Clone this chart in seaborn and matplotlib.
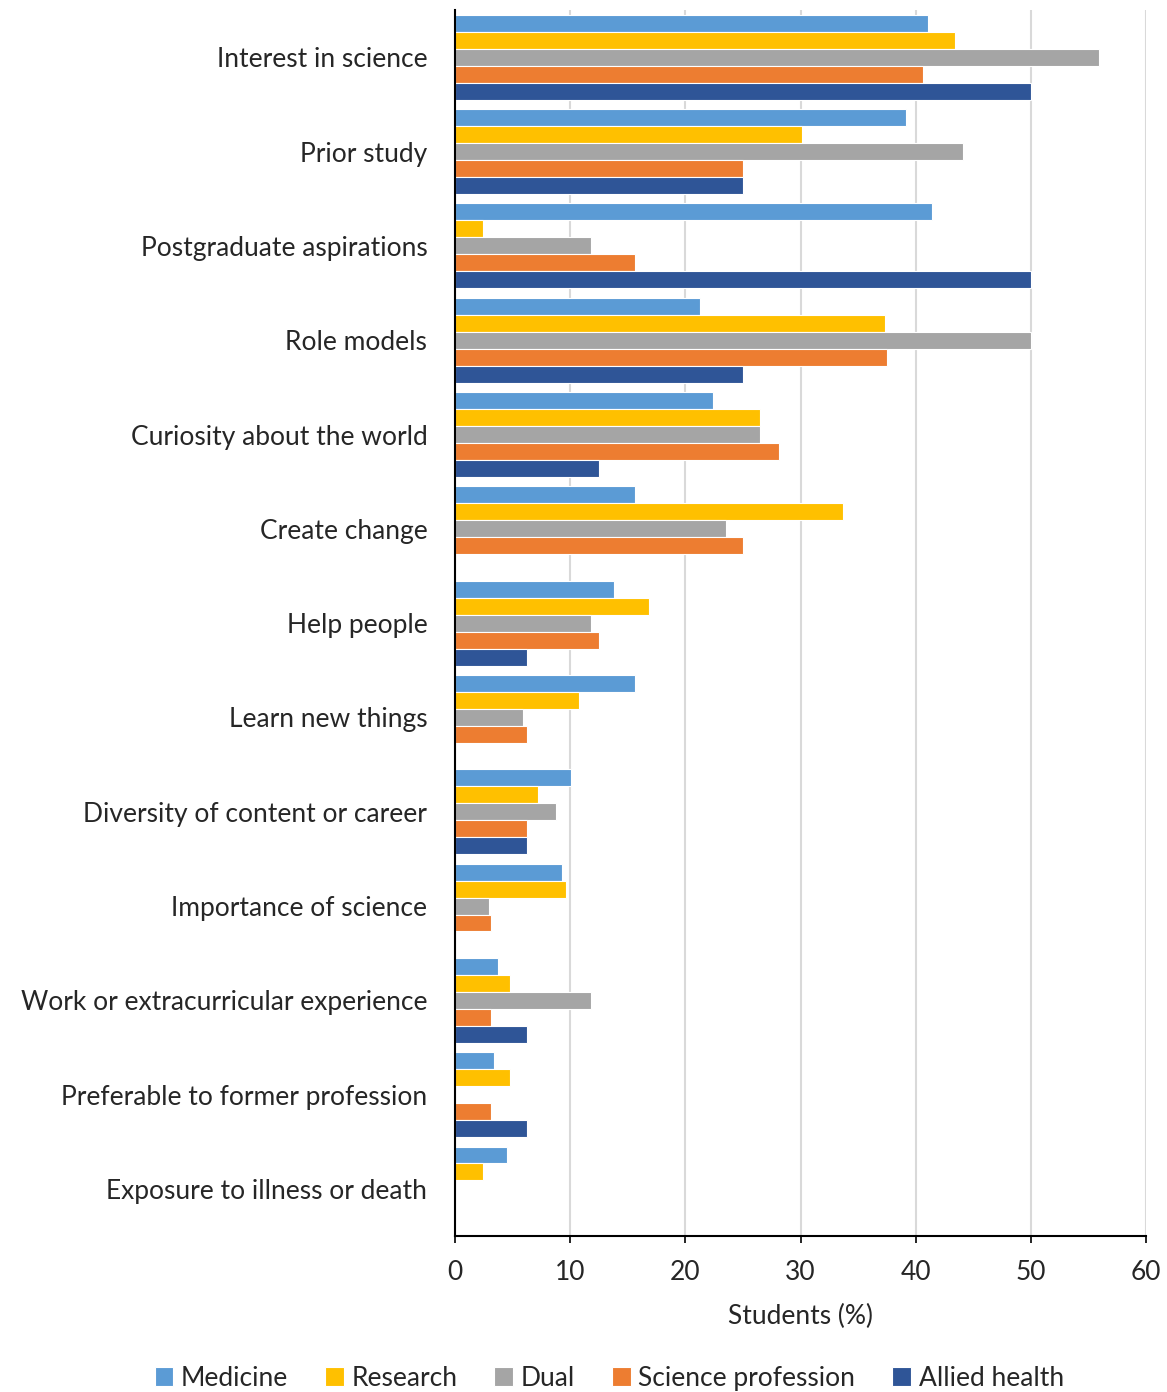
import numpy as np
import pandas as pd
import seaborn as sns
import matplotlib.pyplot as plt

categories = ["Interest in science", "Prior study", "Postgraduate aspirations", "Role models",
              "Curiosity about the world", "Create change", "Help people", "Learn new things",
              "Diversity of content or career", "Importance of science",
              "Work or extracurricular experience", "Preferable to former profession",
              "Exposure to illness or death"]
medicine = [41.1, 39.2, 41.4, 21.3, 22.4, 15.6, 13.8, 15.6, 10.1, 9.3, 3.7, 3.4, 4.5]
research = [43.4, 30.1, 2.4, 37.3, 26.5, 33.7, 16.8, 10.8, 7.2, 9.6, 4.8, 4.8, 2.4]
dual = [55.9, 44.1, 11.8, 50.0, 26.5, 23.5, 11.8, 5.9, 8.8, 2.9, 11.8, 0, 0]
science_prof = [40.6, 25.0, 15.6, 37.5, 28.1, 25.0, 12.5, 6.25, 6.25, 3.1, 3.1, 3.1, 0]
allied = [50.0, 25.0, 50.0, 25.0, 12.5, 0, 6.25, 0, 6.25, 0, 6.25, 6.25, 0]

groups = ["Medicine", "Research", "Dual", "Science profession", "Allied health"]
colors = ["#5B9BD5", "#FFC000", "#A5A5A5", "#ED7D31", "#2F5597"]

df = pd.DataFrame({"Medicine": medicine, "Research": research, "Dual": dual,
                   "Science profession": science_prof, "Allied health": allied},
                  index=categories)
long = df.reset_index(names="reason").melt(id_vars="reason", var_name="group", value_name="pct")

sns.set_style("white")
plt.rcParams["font.family"] = ["Lato", "DejaVu Sans"]
fs = 19

fig = plt.figure(figsize=(11.67, 13.92), dpi=100)
ax = fig.add_axes([0.39, 0.112, 0.592, 0.8807])

sns.barplot(data=long, y="reason", x="pct", hue="group", hue_order=groups,
            palette=colors, saturation=1, orient="h", width=0.9, errorbar=None,
            edgecolor="white", linewidth=0.8, ax=ax, legend=True)

ax.set_xlim(0, 60)
ax.set_xticks(np.arange(0, 61, 10))
ax.grid(axis="x", color="#D9D9D9", linewidth=1.5)
ax.set_axisbelow(True)
sns.despine(ax=ax, top=True, right=True)
ax.spines["left"].set_color("black")
ax.spines["left"].set_linewidth(1.5)
ax.spines["bottom"].set_color("black")
ax.spines["bottom"].set_linewidth(1.5)

# category separators on y axis
ax.set_yticks(np.arange(len(categories)))
ax.set_yticklabels(categories)
ax.set_yticks(np.arange(len(categories) + 1) - 0.5, minor=True)
ax.tick_params(axis="y", which="major", length=0, pad=20, labelsize=fs)
ax.tick_params(axis="y", which="minor", length=6, width=1.5, color="black", direction="out")
ax.tick_params(axis="x", length=5, width=1.2, color="black", direction="out",
               labelsize=fs, pad=12, bottom=True)
ax.set_ylabel("")
ax.set_xlabel("Students (%)", fontsize=fs, labelpad=14)

handles, labels = ax.get_legend_handles_labels()
ax.legend_.remove()
fig.legend(handles, labels, loc="center", bbox_to_anchor=(0.522, 0.01), ncol=5,
           frameon=False, fontsize=fs, handlelength=0.7, handleheight=0.7,
           handletextpad=0.3, columnspacing=1.4)

fig.savefig("out.png", dpi=100)
